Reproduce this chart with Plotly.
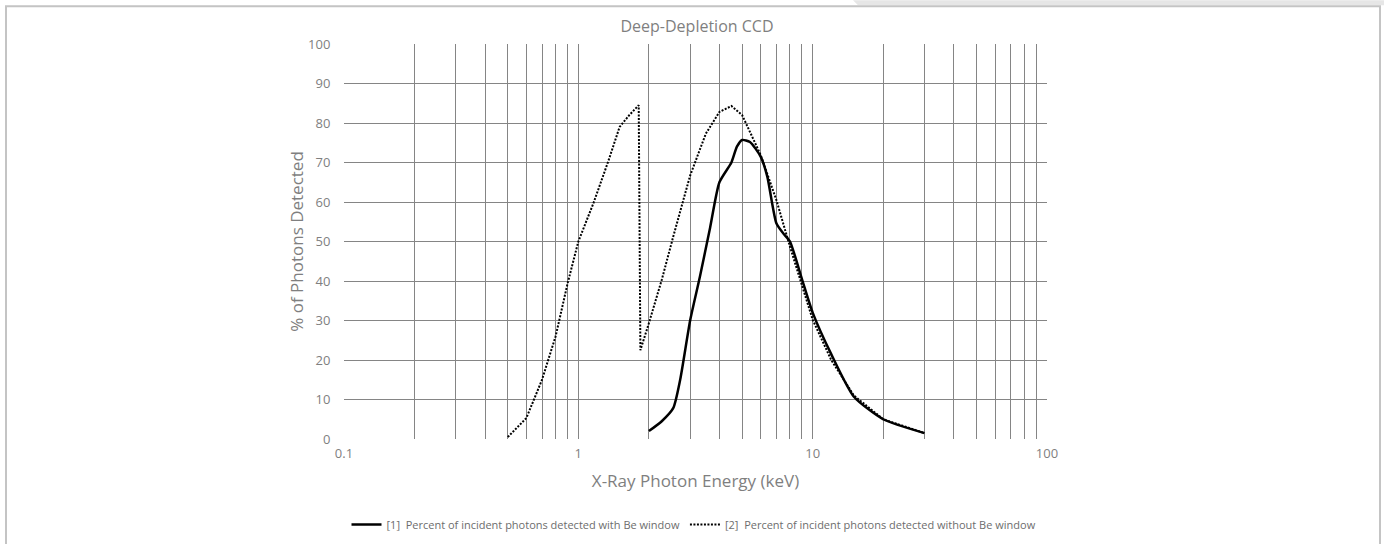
import plotly.graph_objects as go

# ---- data ----
energy_with_be = [2.0, 2.27, 2.54, 2.72, 3.0, 3.3, 3.65, 4.0, 4.5, 4.75, 5.0, 5.4, 6.0, 6.4, 7.0, 7.5, 8.0, 9.0, 10.0, 12.0, 15.0, 20.0, 30.0]
pct_with_be = [2.0, 4.5, 7.8, 15.0, 30.0, 41.0, 53.5, 65.0, 70.0, 74.0, 75.7, 75.2, 71.5, 66.5, 54.6, 52.0, 50.0, 40.5, 32.0, 21.5, 10.7, 5.0, 1.5]

energy_no_be = [0.5, 0.6, 0.7, 0.8, 0.9, 1.0, 1.16, 1.34, 1.5, 1.65, 1.81, 1.84, 2.0, 2.27, 2.54, 3.0, 3.5, 4.0, 4.5, 5.0, 6.0, 7.0, 8.0, 9.0, 10.0, 12.0, 15.0, 20.0, 30.0]
pct_no_be = [0.5, 5.3, 15.0, 26.0, 39.4, 50.0, 59.7, 70.2, 79.0, 82.0, 84.5, 22.5, 29.3, 40.3, 51.2, 66.7, 77.3, 82.8, 84.3, 82.0, 71.9, 60.5, 48.7, 38.6, 30.2, 20.0, 11.0, 5.0, 1.5]

x_grid_vals = [m * 10 ** d for d in (-1, 0, 1) for m in range(1, 10)] + [100]
x_tick_text = [("0.1" if v == 0.1 else "1" if v == 1 else "10" if v == 10 else "") for v in x_grid_vals[:-1]] + ["100"]
y_tick_vals = list(range(0, 101, 10))

name_with = "[1]  Percent of incident photons detected with Be window"
name_without = "[2]  Percent of incident photons detected without Be window"

# ---- layout geometry (pixels) ----
W, H = 1384, 544
PL, PR, PT, PB = 344, 1047, 43.7, 439.3


def px(x):
    return (x - PL) / (PR - PL)


def py(y):
    return (PB - y) / (PB - PT)


FONT = "Open Sans"
GRID = "#858585"
TXT = "#7f7f7f"

fig = go.Figure()
fig.add_trace(go.Scatter(
    x=energy_with_be, y=pct_with_be, mode="lines", name=name_with,
    line=dict(color="#000000", width=2.5, shape="spline", smoothing=0.6),
))
fig.add_trace(go.Scatter(
    x=energy_no_be, y=pct_no_be, mode="lines", name=name_without,
    line=dict(color="#000000", width=2, dash="2px,1.5px"),
))

fig.update_layout(
    width=W, height=H, autosize=False,
    margin=dict(l=PL, r=W - PR, t=PT, b=H - PB, pad=0, autoexpand=False),
    paper_bgcolor="white", plot_bgcolor="white",
    font=dict(family=FONT, color=TXT),
    title=dict(text="Deep-Depletion CCD", x=px(697), xref="paper", xanchor="center",
               y=1 - 26 / H, yref="container", yanchor="middle",
               font=dict(family=FONT, size=16, color=TXT)),
    showlegend=True,
    legend=dict(orientation="h", x=px(694), xanchor="center", y=py(525), yanchor="middle",
                font=dict(family=FONT, size=11, color="#6d6d6d"),
                itemwidth=30, bgcolor="rgba(0,0,0,0)"),
    xaxis=dict(type="log", range=[-1, 2], tickmode="array", tickvals=x_grid_vals, ticktext=x_tick_text,
               showgrid=True, gridcolor=GRID, gridwidth=1, zeroline=False,
               showline=False, ticks="outside", ticklen=2, tickcolor="rgba(0,0,0,0)",
               tickfont=dict(family=FONT, size=13, color=TXT), automargin=False,
               title=dict(text="X-Ray Photon Energy (keV)", standoff=14,
                          font=dict(family=FONT, size=17, color=TXT))),
    yaxis=dict(range=[0, 100], tickmode="array", tickvals=y_tick_vals,
               showgrid=True, gridcolor=GRID, gridwidth=1, zeroline=False,
               showline=False, ticks="outside", ticklen=10, tickcolor="rgba(0,0,0,0)",
               tickfont=dict(family=FONT, size=13, color=TXT), automargin=False,
               title=dict(text="% of Photons Detected", standoff=0,
                          font=dict(family=FONT, size=17, color=TXT))),
    shapes=[
        # top-right grey band of the frame
        dict(type="path", xref="paper", yref="paper", layer="below",
             path=f"M {px(853)} {py(0)} L {px(858)} {py(5)} L {px(1384)} {py(5)} L {px(1384)} {py(0)} Z",
             fillcolor="#e6e6e6", line=dict(width=0)),
        # outer frame
        dict(type="rect", xref="paper", yref="paper", layer="below",
             x0=px(6), x1=px(1380), y0=py(560), y1=py(6),
             line=dict(color="#c4c4c4", width=2), fillcolor="rgba(0,0,0,0)"),
    ],
)

fig.write_html("out.html", config={"displayModeBar": False},
               post_script="document.body.style.margin='0';document.body.style.overflow='hidden';")
